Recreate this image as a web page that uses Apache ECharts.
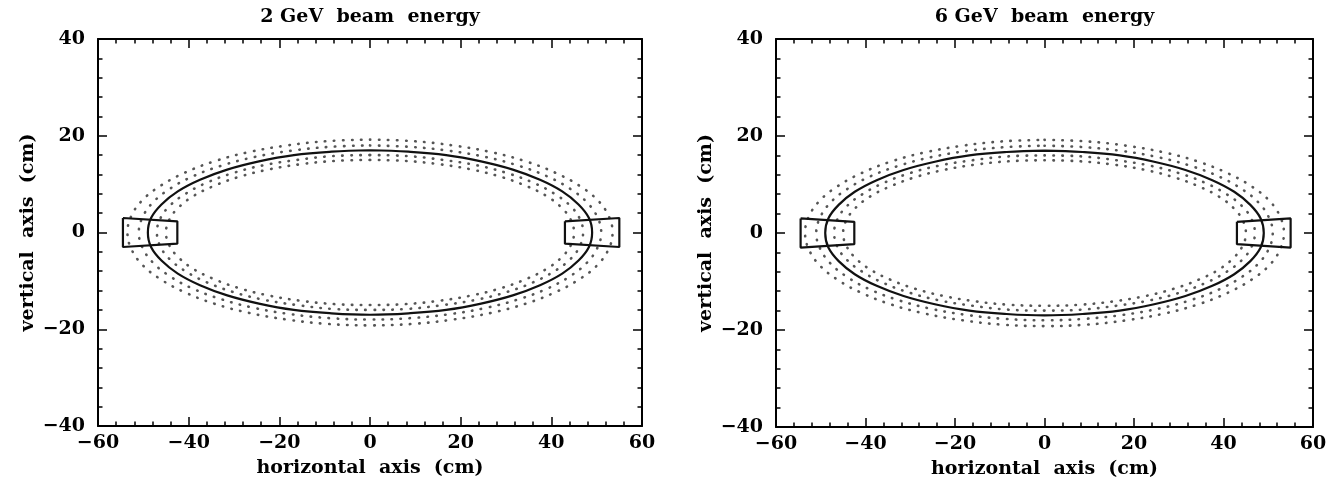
<!DOCTYPE html>
<html>
<head>
<meta charset="utf-8">
<script src="https://cdn.jsdelivr.net/npm/echarts@6/dist/echarts.min.js"></script>
<style>
html, body { margin: 0; padding: 0; background: #fff; }
#chart { width: 1332px; height: 487px; }
</style>
</head>
<body>
<div id="chart"></div>
<script>
// Panel titles and axis names
const panelTitles = ['2 GeV  beam  energy', '6 GeV  beam  energy'];
const xAxisName = 'horizontal  axis  (cm)';
const yAxisName = 'vertical  axis  (cm)';

// Axis ranges (cm) and label step
const xMin = -60, xMax = 60;
const yMin = -40, yMax = 40;
const labelStep = 20;

// Central orbit (solid), closed loop starting at the top, clockwise
const orbitX = [0,8.5,16.8,24.5,31.5,37.5,42.4,46,48.3,49, 48.3,46,42.4,37.5,31.5,24.5,16.8,8.5,0, -8.5,-16.8,-24.5,-31.5,-37.5,-42.4,-46,-48.3,-49, -48.3,-46,-42.4,-37.5,-31.5,-24.5,-16.8,-8.5,0];
const orbitY = [17,16.7,16,14.7,13,10.9,8.5,5.8,3,0, -3,-5.8,-8.5,-10.9,-13,-14.7,-16,-16.7,-17, -16.7,-16,-14.7,-13,-10.9,-8.5,-5.8,-3,0, 3,5.8,8.5,10.9,13,14.7,16,16.7,17];

// Neighbouring orbits (dotted), outermost first
const outer2X = [0,9.3,18.3,26.8,34.4,41,46.3,50.3,52.7,53.5, 52.7,50.3,46.3,41,34.4,26.8,18.3,9.3,0, -9.3,-18.3,-26.8,-34.4,-41,-46.3,-50.3,-52.7,-53.5, -52.7,-50.3,-46.3,-41,-34.4,-26.8,-18.3,-9.3,0];
const outer2Y = [19.2,18.9,18,16.6,14.7,12.3,9.6,6.6,3.3,0, -3.3,-6.6,-9.6,-12.3,-14.7,-16.6,-18,-18.9,-19.2, -18.9,-18,-16.6,-14.7,-12.3,-9.6,-6.6,-3.3,0, 3.3,6.6,9.6,12.3,14.7,16.6,18,18.9,19.2];
const outer1X = [0,8.9,17.4,25.5,32.8,39.1,44.2,47.9,50.2,51, 50.2,47.9,44.2,39.1,32.8,25.5,17.4,8.9,0, -8.9,-17.4,-25.5,-32.8,-39.1,-44.2,-47.9,-50.2,-51, -50.2,-47.9,-44.2,-39.1,-32.8,-25.5,-17.4,-8.9,0];
const outer1Y = [18,17.7,16.9,15.6,13.8,11.6,9,6.2,3.1,0, -3.1,-6.2,-9,-11.6,-13.8,-15.6,-16.9,-17.7,-18, -17.7,-16.9,-15.6,-13.8,-11.6,-9,-6.2,-3.1,0, 3.1,6.2,9,11.6,13.8,15.6,16.9,17.7,18];
const inner1X = [0,8.2,16.1,23.5,30.2,36,40.7,44.2,46.3,47, 46.3,44.2,40.7,36,30.2,23.5,16.1,8.2,0, -8.2,-16.1,-23.5,-30.2,-36,-40.7,-44.2,-46.3,-47, -46.3,-44.2,-40.7,-36,-30.2,-23.5,-16.1,-8.2,0];
const inner1Y = [16,15.8,15,13.9,12.3,10.3,8,5.5,2.8,0, -2.8,-5.5,-8,-10.3,-12.3,-13.9,-15,-15.8,-16, -15.8,-15,-13.9,-12.3,-10.3,-8,-5.5,-2.8,0, 2.8,5.5,8,10.3,12.3,13.9,15,15.8,16];
const inner2X = [0,7.8,15.4,22.5,28.9,34.5,39,42.3,44.3,45, 44.3,42.3,39,34.5,28.9,22.5,15.4,7.8,0, -7.8,-15.4,-22.5,-28.9,-34.5,-39,-42.3,-44.3,-45, -44.3,-42.3,-39,-34.5,-28.9,-22.5,-15.4,-7.8,0];
const inner2Y = [15,14.8,14.1,13,11.5,9.6,7.5,5.1,2.6,0, -2.6,-5.1,-7.5,-9.6,-11.5,-13,-14.1,-14.8,-15, -14.8,-14.1,-13,-11.5,-9.6,-7.5,-5.1,-2.6,0, 2.6,5.1,7.5,9.6,11.5,13,14.1,14.8,15];

// Detector boxes (corner outlines)
const boxLeftX = [-54.5,-42.5,-42.5,-54.5,-54.5];
const boxLeftY = [3,2.3,-2.3,-3,3];
const boxRightX = [43,55,55,43,43];
const boxRightY = [2.3,3,-3,-2.3,2.3];

const FONT = 'DejaVu Serif';
const zip = (xs, ys) => xs.map((x, i) => [x, ys[i]]);
const fmt = v => String(v).replace('-', '\u2212');

const grids = [
  { left: 98, top: 39, width: 544, height: 387 },
  { left: 776, top: 39, width: 537, height: 388 }
];

const tickStyle = { color: '#000', width: 1.5 };
const labelFont = { fontFamily: FONT, fontWeight: 'bold', fontSize: 19, color: '#000' };

function xAxisPair(g) {
  const base = {
    gridIndex: g, type: 'value', min: xMin, max: xMax, interval: labelStep,
    splitLine: { show: false },
    axisLine: { show: true, onZero: false, lineStyle: { color: '#000', width: 2 } },
    axisTick: { show: true, inside: true, length: 9, lineStyle: tickStyle },
    minorTick: { show: true, splitNumber: 5, length: 4.5, lineStyle: tickStyle }
  };
  return [
    Object.assign({}, base, {
      position: 'bottom',
      axisLabel: Object.assign({ margin: 8, formatter: fmt }, labelFont),
      name: xAxisName, nameLocation: 'middle', nameGap: 33,
      nameTextStyle: labelFont
    }),
    Object.assign({}, base, { position: 'top', axisLabel: { show: false } })
  ];
}

function yAxisPair(g) {
  const base = {
    gridIndex: g, type: 'value', min: yMin, max: yMax, interval: labelStep,
    splitLine: { show: false },
    axisLine: { show: true, onZero: false, lineStyle: { color: '#000', width: 2 } },
    axisTick: { show: true, inside: true, length: 9, lineStyle: tickStyle },
    minorTick: { show: true, splitNumber: 5, length: 4.5, lineStyle: tickStyle }
  };
  return [
    Object.assign({}, base, {
      position: 'left',
      axisLabel: Object.assign({ margin: 13, formatter: fmt }, labelFont),
      name: yAxisName, nameLocation: 'middle', nameGap: 60, nameRotate: 90,
      nameTextStyle: labelFont
    }),
    Object.assign({}, base, { position: 'right', axisLabel: { show: false } })
  ];
}

const dotted = [[outer2X, outer2Y], [outer1X, outer1Y], [inner1X, inner1Y], [inner2X, inner2Y]];

const series = [];
grids.forEach((g, i) => {
  const ax = i * 2;
  dotted.forEach(([xs, ys]) => {
    series.push({
      type: 'line', xAxisIndex: ax, yAxisIndex: ax, data: zip(xs, ys),
      smooth: 0.4, showSymbol: false, silent: true,
      lineStyle: { color: '#555', width: 2.6, type: [0.5, 8.5], cap: 'round' }
    });
  });
  series.push({
    type: 'line', xAxisIndex: ax, yAxisIndex: ax, data: zip(orbitX, orbitY),
    smooth: 0.4, showSymbol: false, silent: true,
    lineStyle: { color: '#111', width: 2.2 }
  });
  [[boxLeftX, boxLeftY], [boxRightX, boxRightY]].forEach(([xs, ys]) => {
    series.push({
      type: 'line', xAxisIndex: ax, yAxisIndex: ax, data: zip(xs, ys),
      showSymbol: false, silent: true,
      lineStyle: { color: '#111', width: 2.2 }
    });
  });
});

const chart = echarts.init(document.getElementById('chart'), null, { renderer: 'canvas' });
chart.setOption({
  animation: false,
  backgroundColor: '#fff',
  grid: grids,
  xAxis: [...xAxisPair(0), ...xAxisPair(1)],
  yAxis: [...yAxisPair(0), ...yAxisPair(1)],
  graphic: grids.map((g, i) => ({
    type: 'text',
    x: g.left + g.width / 2,
    y: 17,
    style: {
      text: panelTitles[i], textAlign: 'center', textVerticalAlign: 'middle',
      fontFamily: FONT, fontWeight: 'bold', fontSize: 19, fill: '#000'
    }
  })),
  series: series
});
</script>
</body>
</html>
